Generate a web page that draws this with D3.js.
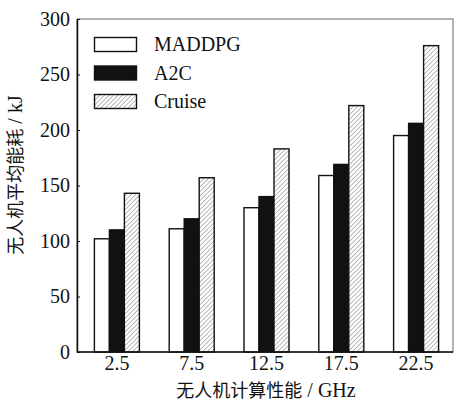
<!DOCTYPE html>
<html><head><meta charset="utf-8">
<script src="https://cdn.jsdelivr.net/npm/d3@7"></script>
<style>body{margin:0;background:#fff}svg{display:block}</style>
</head><body>
<script>
const categories = ["2.5","7.5","12.5","17.5","22.5"];
const seriesNames = ["MADDPG","A2C","Cruise"];
const maddpg = [102,111,130,159,195];
const a2c = [110,120,140,169,206];
const cruise = [143,157,183,222,276];
const yTicks = [0,50,100,150,200,250,300];

const W=455,H=405;
const L=77,R=453,T=19,B=352;
const svg=d3.select("body").append("svg").attr("width",W).attr("height",H);
const defs=svg.append("defs");
const pat=defs.append("pattern").attr("id","hatch").attr("patternUnits","userSpaceOnUse")
 .attr("width",3.2).attr("height",3.2).attr("patternTransform","rotate(45)");
pat.append("rect").attr("width",3.2).attr("height",3.2).attr("fill","#fff");
pat.append("line").attr("x1",0).attr("y1",0).attr("x2",0).attr("y2",3.2).attr("stroke","#777").attr("stroke-width",1);

const x=d3.scaleBand().domain(categories).range([79.5,453.5]);
const y=d3.scaleLinear().domain([0,300]).range([B,T]);
const inner=d3.scaleBand().domain(seriesNames).range([0,45]);
const fills={"MADDPG":"#fff","A2C":"#111","Cruise":"url(#hatch)"};
const serie={"MADDPG":maddpg,"A2C":a2c,"Cruise":cruise};

svg.append("rect").attr("x",L).attr("y",T).attr("width",R-L).attr("height",B-T)
 .attr("fill","none").attr("stroke","#666").attr("stroke-width",1);

const groups=svg.selectAll("g.grp").data(categories).enter().append("g")
 .attr("transform",c=>`translate(${x(c)+x.bandwidth()/2-22.5},0)`);
seriesNames.forEach(s=>{
  groups.append("rect")
   .attr("x",inner(s)).attr("width",inner.bandwidth())
   .attr("y",(c,i)=>y(serie[s][i])).attr("height",(c,i)=>B-y(serie[s][i]))
   .attr("fill",fills[s]).attr("stroke","#111").attr("stroke-width",1.4);
});

const font="'Liberation Serif','Times New Roman',serif";
const ya=svg.append("g").attr("transform",`translate(${L},0)`)
 .call(d3.axisLeft(y).tickValues(yTicks).tickSizeInner(-3).tickSizeOuter(0).tickPadding(7));
ya.select(".domain").attr("stroke","#111").attr("stroke-width",1.5);
ya.selectAll(".tick line").attr("stroke","#111");
ya.selectAll("text").attr("font-family",font).attr("font-size",20).attr("fill","#111");

const xa=svg.append("g").attr("transform",`translate(0,${B})`)
 .call(d3.axisBottom(x).tickSize(0).tickPadding(4));
xa.select(".domain").attr("d",`M${L},0H${R}`).attr("stroke","#111").attr("stroke-width",1.5);
xa.selectAll("text").attr("font-family",font).attr("font-size",20).attr("fill","#111");

const cjk="'Noto Sans CJK SC','Liberation Serif',serif";
const xt=svg.append("text").attr("x",266).attr("y",397).attr("text-anchor","middle")
 .attr("font-size",18).attr("fill","#111");
xt.append("tspan").attr("font-family",cjk).text("无人机计算性能");
xt.append("tspan").attr("font-family",font).attr("font-size",20).text(" / GHz");
const yt=svg.append("text").attr("transform","translate(22,175) rotate(-90)").attr("text-anchor","middle")
 .attr("font-size",18).attr("fill","#111");
yt.append("tspan").attr("font-family",cjk).text("无人机平均能耗");
yt.append("tspan").attr("font-family",font).attr("font-size",20).text(" / kJ");

const leg=svg.append("g");
seriesNames.forEach((s,i)=>{
  const yy=37.5+i*28.5;
  leg.append("rect").attr("x",94.5).attr("y",yy).attr("width",42).attr("height",14)
   .attr("fill",fills[s]).attr("stroke","#111").attr("stroke-width",1.4);
  leg.append("text").attr("x",154).attr("y",yy+13.5).attr("font-family",font)
   .attr("font-size",20).attr("fill","#111").text(s);
});
</script>
</body></html>
